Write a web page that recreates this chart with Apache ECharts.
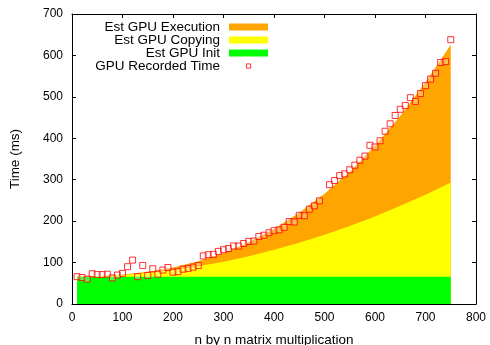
<!DOCTYPE html>
<html>
<head>
<meta charset="utf-8">
<script src="https://cdn.jsdelivr.net/npm/echarts@6/dist/echarts.min.js"></script>
<style>
    html, body { margin: 0; padding: 0; background: #fff; }
    #chart { width: 490px; height: 345px; }
</style>
</head>
<body>
<div id="chart"></div>
<script>
// matrix size n for the estimate curves
const estN = [10, 50, 100, 150, 200, 250, 300, 350, 400, 450, 500, 550, 600, 650, 700, 750]
// estimated time parts (ms), drawn stacked: init + copying + execution
const estInit = [66, 66, 66, 66, 66, 66, 66, 66, 66, 66, 66, 66, 66, 66, 66, 66]
const estCopying = [0, 1, 4, 9, 16, 25, 36, 49, 65, 82, 101, 122, 145, 171, 198, 227]
const estExecution = [0, 0, 1, 3, 6, 12, 21, 34, 50, 72, 99, 131, 171, 217, 271, 333]

// measured GPU times (ms)
const recordedN = [
    10, 20, 30, 40, 50, 60, 70, 80, 90, 100, 110, 120, 130, 140, 150, 160, 170, 180, 190, 200,
    210, 220, 230, 240, 250, 260, 270, 280, 290, 300, 310, 320, 330, 340, 350, 360, 370, 380, 390, 400,
    410, 420, 430, 440, 450, 460, 470, 480, 490, 510, 520, 530, 540, 550, 560, 570, 580, 590, 600,
    610, 620, 630, 640, 650, 660, 670, 680, 690, 700, 710, 720, 730, 740, 750,
]
const recordedTime = [
    66, 64, 60, 73, 71, 71, 72, 63, 70, 74, 90, 106, 66, 93, 69, 85, 72, 82, 88, 77,
    78, 84, 86, 89, 93, 116, 119, 120, 127, 131, 134, 140, 140, 146, 151, 152, 163, 166, 172, 177,
    179, 185, 199, 198, 214, 213, 229, 237, 249, 288, 298, 310, 314, 324, 335, 347, 357, 383, 379,
    394, 417, 435, 455, 470, 479, 498, 489, 508, 527, 543, 557, 583, 585, 638,
]

const xTicks = [0, 100, 200, 300, 400, 500, 600, 700, 800]
const yTicks = [0, 100, 200, 300, 400, 500, 600, 700]

const FONT = '"Liberation Sans", Arial, Helvetica, sans-serif'

// running totals so each band sits on the one below it
const initTop = estInit.slice()
const copyTop = estInit.map((v, i) => v + estCopying[i])
const execTop = copyTop.map((v, i) => v + estExecution[i])

const pairs = (xs, ys) => xs.map((x, i) => [x, ys[i]])

const frameAxis = (extra) => Object.assign({
    axisLine: { show: true, onZero: false, lineStyle: { color: '#000', width: 1 } },
    axisTick: { show: true, inside: true, length: 4, lineStyle: { color: '#000' } },
    splitLine: { show: false },
    axisLabel: { show: false },
}, extra)

const areaSeries = (name, values, color, z) => ({
    name: name,
    type: 'line',
    data: pairs(estN, values),
    smooth: false,
    showSymbol: false,
    symbol: 'none',
    lineStyle: { width: 0 },
    itemStyle: { color: color },
    areaStyle: { color: color, opacity: 1, origin: 'start' },
    emphasis: { disabled: true },
    z: z,
})

const chart = echarts.init(document.getElementById('chart'), null, { renderer: 'canvas' })

chart.setOption({
    animation: false,
    backgroundColor: '#fff',
    textStyle: { fontFamily: FONT },
    grid: { left: 72, right: 14, top: 14, bottom: 41, outerBoundsMode: 'none', containLabel: false },
    legend: {
        orient: 'vertical',
        align: 'right',
        right: 217,
        top: 15,
        itemWidth: 39,
        itemHeight: 7,
        itemGap: -1,
        selectedMode: false,
        textStyle: { fontFamily: FONT, fontSize: 13.5, color: '#000', lineHeight: 12, padding: [0, 4, 0, 0] },
        data: [
            { name: 'Est GPU Execution', icon: 'rect' },
            { name: 'Est GPU Copying', icon: 'rect' },
            { name: 'Est GPU Init', icon: 'rect' },
            {
                name: 'GPU Recorded Time',
                icon: 'path://M0,0M10,10M2,2h6v6h-6z',
                itemStyle: { color: '#fff', borderColor: '#ff0000', borderWidth: 1 },
            },
        ],
    },
    xAxis: [
        frameAxis({
            type: 'value',
            min: xTicks[0],
            max: xTicks[xTicks.length - 1],
            interval: 100,
            position: 'bottom',
            name: 'n by n matrix multiplication',
            nameLocation: 'middle',
            nameGap: 29,
            nameTextStyle: { fontFamily: FONT, fontSize: 13.5, color: '#000' },
            axisLabel: { show: true, margin: 8, fontSize: 12, color: '#000', fontFamily: FONT },
        }),
        frameAxis({ type: 'value', min: 0, max: 800, interval: 100, position: 'top' }),
    ],
    yAxis: [
        frameAxis({
            type: 'value',
            min: yTicks[0],
            max: yTicks[yTicks.length - 1],
            interval: 100,
            position: 'left',
            name: 'Time (ms)',
            nameLocation: 'middle',
            nameGap: 50,
            nameTextStyle: { fontFamily: FONT, fontSize: 13.5, color: '#000' },
            axisLabel: { show: true, margin: 9, fontSize: 12, color: '#000', fontFamily: FONT },
        }),
        frameAxis({ type: 'value', min: 0, max: 700, interval: 100, position: 'right' }),
    ],
    series: [
        areaSeries('Est GPU Execution', execTop, '#ffa500', 2),
        areaSeries('Est GPU Copying', copyTop, '#ffff00', 3),
        areaSeries('Est GPU Init', initTop, '#00ff00', 4),
        {
            name: 'GPU Recorded Time',
            type: 'scatter',
            data: pairs(recordedN, recordedTime),
            symbol: 'rect',
            symbolSize: 6,
            itemStyle: { color: 'rgba(255,255,255,0.35)', borderColor: '#ff0000', borderWidth: 1 },
            emphasis: { disabled: true },
            z: 5,
        },
    ],
})
</script>
</body>
</html>
